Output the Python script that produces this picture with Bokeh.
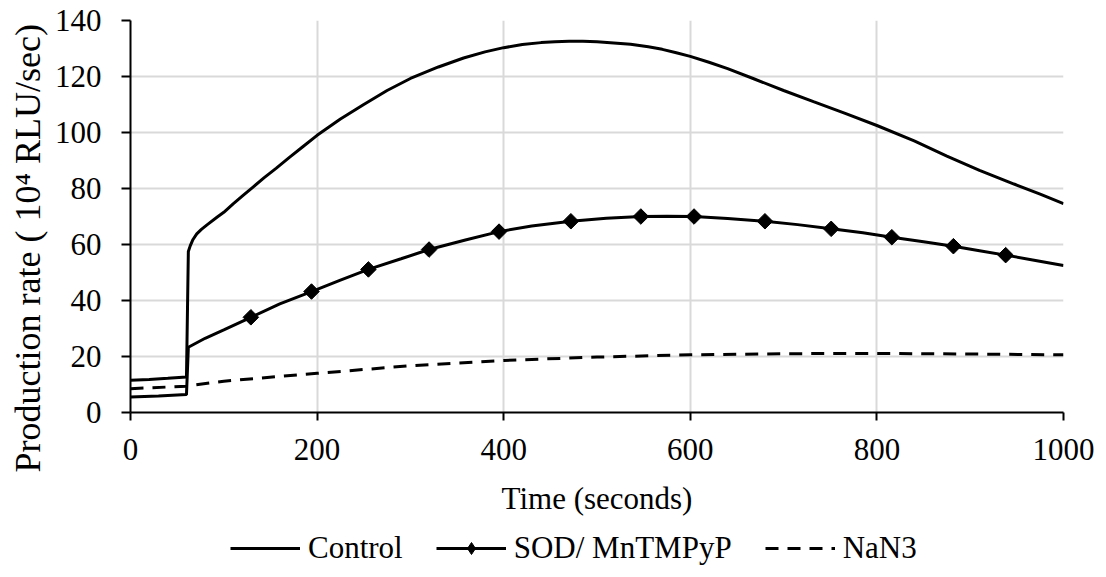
from bokeh.plotting import figure
from bokeh.models import Legend, LegendItem, FixedTicker, Range1d, Title
from bokeh.layouts import column
from bokeh.embed import file_html
from bokeh.resources import INLINE
import numpy as np

# ---- data ----
control_t = [0, 20, 40, 60, 62, 64, 67, 71, 76, 82, 93, 100, 110, 121, 132, 143, 156,
             170, 185, 200, 225, 250, 275, 300, 330, 357, 380, 400, 420, 440, 455,
             470, 485, 500, 518, 536, 555, 570, 585, 600, 620, 640, 668, 700, 732,
             766, 800, 840, 875, 910, 947, 975, 1000]
control_y = [11.5, 11.8, 12.2, 12.7, 57.5, 59.5, 61.8, 63.8, 65.4, 67.0, 69.8, 71.5,
             74.5, 77.6, 80.7, 83.8, 87.2, 91.0, 95.0, 99.0, 104.8, 110.0, 115.0,
             119.3, 123.4, 126.6, 128.8, 130.3, 131.4, 132.1, 132.4, 132.6, 132.6,
             132.4, 132.0, 131.5, 130.6, 129.7, 128.5, 127.2, 125.1, 122.8, 119.2,
             115.0, 111.0, 106.8, 102.5, 97.0, 91.6, 86.5, 81.6, 78.0, 74.6]

sod_t = [0, 30, 60, 62, 80, 100, 129, 160, 194, 225, 255, 290, 320, 360, 395, 430,
         472, 510, 547, 575, 604, 640, 680, 715, 751, 785, 816, 850, 882, 910, 938,
         970, 1000]
sod_y = [5.5, 5.9, 6.4, 23.3, 26.5, 29.5, 34.0, 38.8, 43.2, 47.3, 51.1, 54.9, 58.2,
         61.7, 64.6, 66.6, 68.3, 69.4, 70.0, 70.1, 70.0, 69.3, 68.3, 67.1, 65.6,
         64.2, 62.6, 61.0, 59.4, 57.8, 56.2, 54.3, 52.5]
sod_marker_t = [129, 194, 255, 320, 395, 472, 547, 604, 680, 751, 816, 882, 938]
sod_marker_y = [34.0, 43.2, 51.1, 58.2, 64.6, 68.3, 70.0, 70.0, 68.3, 65.6, 62.6, 59.4, 56.2]

nan3_t = [0, 60, 100, 200, 300, 400, 500, 600, 700, 800, 900, 1000]
nan3_y = [8.5, 9.4, 11.2, 14.0, 16.7, 18.6, 19.8, 20.6, 21.0, 21.1, 20.9, 20.6]

x_ticks = [0, 200, 400, 600, 800, 1000]
y_ticks = [0, 20, 40, 60, 80, 100, 120, 140]

series_names = ["Control", "SOD/ MnTMPyP", "NaN3"]
x_title = "Time (seconds)"
y_title = "Production rate ( 10\u2074 RLU/sec)"

FONT = "Liberation Serif"

p = figure(width=1106, height=530, output_backend="svg", toolbar_location=None,
           x_range=Range1d(0, 1000), y_range=Range1d(0, 140),
           min_border_left=130, min_border_right=43, min_border_top=20,
           min_border_bottom=118)
p.outline_line_color = None
p.background_fill_color = "white"
p.border_fill_color = "white"

# grids
for g in (p.xgrid, p.ygrid):
    g.grid_line_color = "#d9d9d9"
    g.grid_line_width = 2
p.xgrid.ticker = FixedTicker(ticks=x_ticks)
p.ygrid.ticker = FixedTicker(ticks=y_ticks)

# axes
p.xaxis.ticker = FixedTicker(ticks=x_ticks)
p.yaxis.ticker = FixedTicker(ticks=y_ticks)
for ax in (p.xaxis[0], p.yaxis[0]):
    ax.axis_line_color = "black"
    ax.axis_line_width = 2
    ax.major_tick_line_color = "black"
    ax.major_tick_line_width = 2
    ax.major_tick_in = 0
    ax.minor_tick_line_color = None
    ax.major_label_text_font = FONT
    ax.major_label_text_font_size = "31px"
    ax.major_label_text_color = "black"
    ax.axis_label_text_font = FONT
    ax.axis_label_text_font_style = "normal"
    ax.axis_label_text_color = "black"
p.xaxis.major_tick_out = 8
p.yaxis.major_tick_out = 9
p.xaxis.major_label_standoff = 18
p.yaxis.major_label_standoff = 20
p.xaxis.axis_label = x_title
p.xaxis.axis_label_text_font_size = "31px"
p.xaxis.axis_label_standoff = 18

# y title: a left-side title that starts near the bottom, as in the reference
ytitle = Title(text=y_title, align="left", offset=-60, standoff=8,
               text_font=FONT, text_font_size="36px", text_font_style="normal",
               text_color="black")
p.add_layout(ytitle, "left")

# series
r_control = p.line(control_t, control_y, line_color="black", line_width=3)
r_sod = p.line(sod_t, sod_y, line_color="black", line_width=3)
r_sod_m = p.scatter(sod_marker_t, sod_marker_y, marker="square", size=11,
                    angle=np.pi / 4, fill_color="black", line_color="black")
r_nan3 = p.line(nan3_t, nan3_y, line_color="black", line_width=3, line_dash="13 9")

# legend strip below the chart (its own small figure so it is not clipped);
# its renderers only carry the styles for the legend samples (no visible data)
NAN = [float("nan"), float("nan")]
q = figure(width=1106, height=47, output_backend="svg", toolbar_location=None,
           x_axis_location=None, y_axis_location=None,
           min_border=0, x_range=Range1d(0, 1), y_range=Range1d(0, 1))
q.outline_line_color = None
q.xgrid.visible = False
q.ygrid.visible = False
q.border_fill_color = "white"
lc = q.line(NAN, NAN, line_color="black", line_width=3)
ls = q.line(NAN, NAN, line_color="black", line_width=3)
lm = q.scatter(NAN, NAN, marker="diamond", size=18,
               fill_color="black", line_color="black")
ln = q.line(NAN, NAN, line_color="black", line_width=3, line_dash="13 9")

legend = Legend(items=[LegendItem(label=series_names[0], renderers=[lc]),
                       LegendItem(label=series_names[1], renderers=[ls, lm]),
                       LegendItem(label=series_names[2], renderers=[ln])],
                orientation="horizontal", location=(100, 11),
                glyph_width=70, glyph_height=30, label_standoff=8, spacing=33,
                padding=0, margin=0, border_line_color=None,
                background_fill_alpha=0,
                label_text_font=FONT, label_text_font_size="31px",
                label_text_color="black")
q.add_layout(legend, "center")

layout = column(p, q, spacing=0)
open("out.html", "w").write(file_html(layout, INLINE))
